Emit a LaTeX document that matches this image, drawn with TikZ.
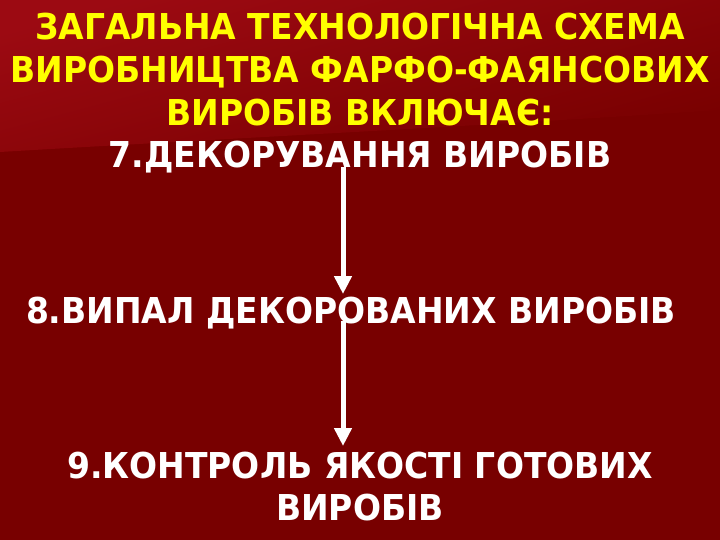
\documentclass[tikz,border=0pt]{standalone}
\usepackage{fontspec}
\usepackage{graphicx}
\setmainfont{DejaVu Sans}
\usetikzlibrary{arrows.meta}
\definecolor{bgdark}{HTML}{780000}
\definecolor{bglight}{HTML}{9C0A12}
\definecolor{titleyellow}{HTML}{FFFF00}
\newcommand{\tallbox}[1]{\scalebox{1.0}[1.08]{#1}}
\tikzset{
  title/.style={text=titleyellow, font=\fontsize{33}{36}\selectfont\bfseries, inner sep=0pt, anchor=base},
  stage/.style={text=white, font=\fontsize{33}{36}\selectfont\bfseries, inner sep=0pt, anchor=base},
  flow/.style={draw=white, line width=5pt, -{Triangle[width=17pt,length=18pt]}}
}
\begin{document}
\begin{tikzpicture}[x=1pt,y=-1pt]
\useasboundingbox (0,0) rectangle (720,540);
\fill[bgdark] (0,0) rectangle (720,540);
\shade[top color=bglight, bottom color=bgdark, shading angle=15]
  (0,0) -- (720,0) -- (720,110) .. controls (500,125) and (200,140) .. (0,152) -- cycle;
\node[title] (t1) at (360,40) {\tallbox{ЗАГАЛЬНА ТЕХНОЛОГІЧНА СХЕМА}};
\node[title] (t2) at (360,83) {\tallbox{ВИРОБНИЦТВА ФАРФО-ФАЯНСОВИХ}};
\node[title] (t3) at (360,126) {\tallbox{ВИРОБІВ ВКЛЮЧАЄ:}};
\node[stage] (s7) at (360,168) {\tallbox{7.ДЕКОРУВАННЯ ВИРОБІВ}};
\node[stage] (s8) at (351,323) {\tallbox{8.ВИПАЛ ДЕКОРОВАНИХ ВИРОБІВ}};
\node[stage] (s9a) at (360,478) {\tallbox{9.КОНТРОЛЬ ЯКОСТІ ГОТОВИХ}};
\node[stage] (s9b) at (360,520) {\tallbox{ВИРОБІВ}};
\coordinate (a1s) at (343,167);
\coordinate (a1e) at (343,294);
\coordinate (a2s) at (343,321);
\coordinate (a2e) at (343,446);
\draw[flow] (a1s) -- (a1e);
\draw[flow] (a2s) -- (a2e);
\end{tikzpicture}
\end{document}
